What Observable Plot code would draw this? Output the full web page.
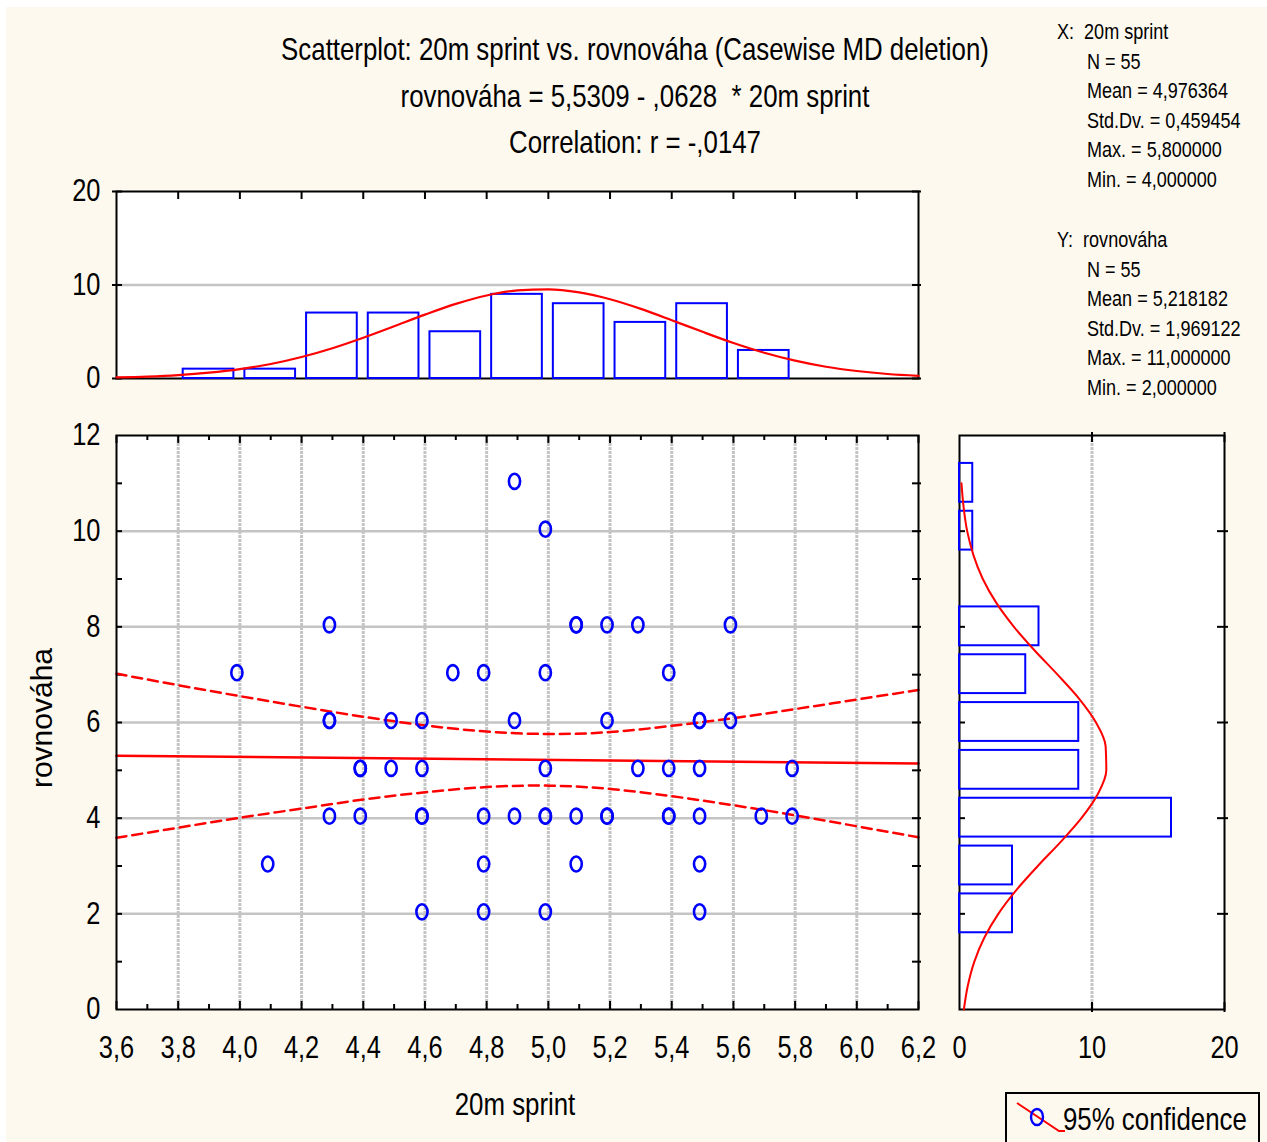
<!DOCTYPE html>
<html><head><meta charset="utf-8">
<script src="https://cdn.jsdelivr.net/npm/d3@7"></script>
<script src="https://cdn.jsdelivr.net/npm/@observablehq/plot@0.6"></script>
<style>
html,body{margin:0;padding:0;background:#fff;}
#root{position:relative;width:1267px;height:1142px;overflow:hidden;background:#fff;}
#bg{position:absolute;left:6px;top:7px;width:1261px;height:1135px;background:#fdf9ee;}
.t{position:absolute;font-family:"Liberation Sans",Arial,sans-serif;color:#000;white-space:pre;line-height:1;}
.c{transform:translate(-50%,-50%) scaleX(0.82);transform-origin:50% 50%;}
.l{transform:translate(0,-50%) scaleX(0.82);transform-origin:0 50%;}
.plot{position:absolute;}
#legend{position:absolute;left:1005px;top:1092px;width:251px;height:60px;border:2px solid #000;background:#fdf9ee;}
</style></head>
<body><div id="root"><div id="bg"></div></div>
<script>
// ---------------- data ----------------
const sprint = [4.9, 5.0,
  4.3, 5.1, 5.1, 5.2, 5.3, 5.6,
  4.0, 4.7, 4.8, 5.0, 5.4,
  4.3, 4.3, 4.5, 4.6, 4.9, 5.2, 5.5, 5.5, 5.6,
  4.4, 4.4, 4.5, 4.6, 5.0, 5.3, 5.4, 5.5, 5.8,
  4.3, 4.4, 4.6, 4.6, 4.8, 4.9, 5.0, 5.0, 5.1, 5.2, 5.2, 5.4, 5.4, 5.5, 5.7, 5.8,
  4.1, 4.8, 5.1, 5.5,
  4.6, 4.8, 5.0, 5.5];
const rovnovaha = [11, 10,
  8, 8, 8, 8, 8, 8,
  7, 7, 7, 7, 7,
  6, 6, 6, 6, 6, 6, 6, 6, 6,
  5, 5, 5, 5, 5, 5, 5, 5, 5,
  4, 4, 4, 4, 4, 4, 4, 4, 4, 4, 4, 4, 4, 4, 4, 4,
  3, 3, 3, 3,
  2, 2, 2, 2];

// top histogram (20m sprint)
const xBinLo = [3.8, 4.0, 4.2, 4.4, 4.6, 4.8, 5.0, 5.2, 5.4, 5.6, 5.8];
const xBinHi = [4.0, 4.2, 4.4, 4.6, 4.8, 5.0, 5.2, 5.4, 5.6, 5.8, 6.0];
const xBinCount = [1, 1, 7, 7, 5, 9, 8, 6, 8, 3, 0];
// right histogram (rovnovaha)
const yBinMid = [2, 3, 4, 5, 6, 7, 8, 9, 10, 11];
const yBinCount = [4, 4, 16, 9, 9, 5, 6, 0, 1, 1];

// fitted normal curves on histograms
const normXAt = [3.6,3.7,3.8,3.9,4.0,4.1,4.2,4.3,4.4,4.5,4.6,4.7,4.8,4.9,5.0,5.1,5.2,5.3,5.4,5.5,5.6,5.7,5.8,5.9,6.0,6.1,6.2];
const normXCount = [0.11,0.20,0.36,0.62,1.00,1.55,2.30,3.24,4.36,5.59,6.83,7.98,8.88,9.42,9.54,9.21,8.48,7.45,6.24,4.99,3.80,2.76,1.91,1.26,0.80,0.48,0.28];
const normYAt = [0,0.5,1,1.5,2,2.5,3,3.5,4,4.5,5,5.5,6,6.5,7,7.5,8,8.5,9,9.5,10,10.5,11];
const normYCount = [0.33,0.63,1.12,1.87,2.93,4.30,5.91,7.62,9.20,10.43,11.08,11.03,10.30,9.02,7.40,5.69,4.11,2.78,1.76,1.05,0.58,0.31,0.15];

// regression line and 95% confidence band
const fitX = [3.6, 6.2];
const fitY = [5.305, 5.142];
const bandX = [3.6,3.8,4.0,4.2,4.4,4.6,4.8,5.0,5.2,5.4,5.6,5.8,6.0,6.2];
const bandUpper = [7.02,6.78,6.55,6.33,6.12,5.94,5.81,5.76,5.80,5.93,6.09,6.28,6.48,6.68];
const bandLower = [3.59,3.80,4.01,4.20,4.39,4.54,4.65,4.68,4.61,4.46,4.27,4.06,3.83,3.60];

// ticks
const xMajor = [3.6,3.8,4.0,4.2,4.4,4.6,4.8,5.0,5.2,5.4,5.6,5.8,6.0,6.2];
const xMinor = [3.7,3.9,4.1,4.3,4.5,4.7,4.9,5.1,5.3,5.5,5.7,5.9,6.1];
const xGrid = [3.8,4.0,4.2,4.4,4.6,4.8,5.0,5.2,5.4,5.6,5.8,6.0];
const yLabels = [0,2,4,6,8,10,12];
const yAllTicks = [1,2,3,4,5,6,7,8,9,10,11];
const yGrid = [2,4,6,8,10];
const histTicks = [0,10,20];

const titleLines = [
  "Scatterplot: 20m sprint vs. rovnováha (Casewise MD deletion)",
  "rovnováha = 5,5309 - ,0628  * 20m sprint",
  "Correlation: r = -,0147"
];
const statsX = ["X:  20m sprint", "N = 55", "Mean = 4,976364", "Std.Dv. = 0,459454", "Max. = 5,800000", "Min. = 4,000000"];
const statsY = ["Y:  rovnováha", "N = 55", "Mean = 5,218182", "Std.Dv. = 1,969122", "Max. = 11,000000", "Min. = 2,000000"];

// ---------------- drawing ----------------
const FONT = '"Liberation Sans",Arial,sans-serif';
const BLUE = "#0000ff", RED = "#ff0000", GRID = "#c4c4c4";
const NARROW = 0.82;
const fmt = d => d.toFixed(1).replace(".", ",");
const root = document.getElementById("root");
const baseStyle = {background: "transparent", fontFamily: FONT, fontSize: "31px", color: "black", overflow: "visible"};

const points = sprint.map((x, i) => ({x, y: rovnovaha[i]}));
const ellipse = {draw(ctx, size) {
  const r = Math.sqrt(size / Math.PI), rx = r * 0.8, ry = r * 1.08, k = 0.5523;
  ctx.moveTo(rx, 0);
  ctx.bezierCurveTo(rx, ry * k, rx * k, ry, 0, ry);
  ctx.bezierCurveTo(-rx * k, ry, -rx, ry * k, -rx, 0);
  ctx.bezierCurveTo(-rx, -ry * k, -rx * k, -ry, 0, -ry);
  ctx.bezierCurveTo(rx * k, -ry, rx, -ry * k, rx, 0);
  ctx.closePath();
}};

// condense tick label text (Arial Narrow look)
function narrow(svg) {
  svg.querySelectorAll("text").forEach(t => {
    const tr = t.getAttribute("transform");
    if (tr) t.setAttribute("transform", tr + ` scale(${NARROW},1)`);
    else {
      const x = +t.getAttribute("x") || 0, y = +t.getAttribute("y") || 0;
      t.setAttribute("transform", `translate(${x},${y}) scale(${NARROW},1) translate(${-x},${-y})`);
    }
  });
  return svg;
}

// main scatter: frame 802 x 574
const FW = 802, FH = 574;
const main = Plot.plot({
  width: 950, height: 740, marginLeft: 116, marginRight: 32, marginTop: 35, marginBottom: 131,
  x: {domain: [3.6, 6.2]}, y: {domain: [0, 12]},
  style: baseStyle,
  marks: [
    Plot.frame({fill: "white", stroke: null}),
    Plot.gridX({ticks: xGrid, stroke: GRID, strokeOpacity: 1, strokeWidth: 3, strokeDasharray: "3,1"}),
    Plot.gridY({ticks: yGrid, stroke: GRID, strokeOpacity: 1, strokeWidth: 2.5}),
    Plot.ruleX(xMajor, {x: d => d, insetTop: FH - 8, stroke: "black", strokeWidth: 2}),
    Plot.ruleX(xMinor, {x: d => d, insetTop: FH - 5, stroke: "black", strokeWidth: 2}),
    Plot.ruleX(xMajor, {x: d => d, insetBottom: FH - 8, stroke: "black", strokeWidth: 2}),
    Plot.ruleX(xMinor, {x: d => d, insetBottom: FH - 5, stroke: "black", strokeWidth: 2}),
    Plot.ruleY(yAllTicks, {y: d => d, insetRight: FW - 6, stroke: "black", strokeWidth: 2}),
    Plot.ruleY(yAllTicks, {y: d => d, insetLeft: FW - 6, insetRight: -3, stroke: "black", strokeWidth: 2}),
    Plot.line(bandX.map((x, i) => ({x, y: bandUpper[i]})), {x: "x", y: "y", stroke: RED, strokeWidth: 2.5, strokeDasharray: "10,6", curve: "natural"}),
    Plot.line(bandX.map((x, i) => ({x, y: bandLower[i]})), {x: "x", y: "y", stroke: RED, strokeWidth: 2.5, strokeDasharray: "10,6", curve: "natural"}),
    Plot.line(fitX.map((x, i) => ({x, y: fitY[i]})), {x: "x", y: "y", stroke: RED, strokeWidth: 2.5}),
    Plot.dot(points, {x: "x", y: "y", r: 7, dx: -3, dy: -2, symbol: ellipse, stroke: BLUE, strokeWidth: 2.6, fill: "none"}),
    Plot.axisX({ticks: xMajor, tickFormat: fmt, tickSize: 0, tickPadding: 26, label: null, fontSize: 31}),
    Plot.axisY({ticks: yLabels, tickSize: 0, tickPadding: 16, label: null, fontSize: 31}),
    Plot.frame({stroke: "black", strokeWidth: 2})
  ]
});
narrow(main);
main.classList.add("plot");
Object.assign(main.style, {left: "0px", top: "400px", position: "absolute"});

// top histogram: frame 802 x 187
const TH = 187;
const topH = Plot.plot({
  width: 950, height: 230, marginLeft: 116, marginRight: 32, marginTop: 21, marginBottom: 22,
  x: {domain: [3.6, 6.2], axis: null}, y: {domain: [0, 20]},
  style: baseStyle,
  marks: [
    Plot.frame({fill: "white", stroke: null}),
    Plot.gridY({ticks: [10], stroke: GRID, strokeOpacity: 1, strokeWidth: 2.5}),
    Plot.ruleX(xGrid, {x: d => d, insetBottom: TH - 8, stroke: "black", strokeWidth: 2}),
    Plot.ruleY(histTicks, {y: d => d, insetRight: FW - 6, insetLeft: -4, stroke: "black", strokeWidth: 2}),
    Plot.ruleY(histTicks, {y: d => d, insetLeft: FW - 6, insetRight: -3, stroke: "black", strokeWidth: 2}),
    Plot.axisY({ticks: histTicks, tickSize: 0, tickPadding: 16, label: null, fontSize: 31}),
    Plot.frame({stroke: "black", strokeWidth: 2}),
    Plot.rectY(xBinLo.map((lo, i) => ({lo, hi: xBinHi[i], n: xBinCount[i]})),
      {x1: "lo", x2: "hi", y: "n", insetLeft: 5, insetRight: 6, stroke: BLUE, strokeWidth: 2, fill: "none"}),
    Plot.line(normXAt.map((x, i) => ({x, y: normXCount[i]})), {x: "x", y: "y", stroke: RED, strokeWidth: 2.2, curve: "monotone-x"})
  ]
});
narrow(topH);
topH.classList.add("plot");
Object.assign(topH.style, {left: "0px", top: "170px", position: "absolute"});

// right histogram: frame 265 x 574
const RW = 265;
const rightH = Plot.plot({
  width: 337, height: 740, marginLeft: 29, marginRight: 43, marginTop: 35, marginBottom: 131,
  x: {domain: [0, 20]}, y: {domain: [0, 12], axis: null},
  style: baseStyle,
  marks: [
    Plot.frame({fill: "white", stroke: null}),
    Plot.gridX({ticks: [10], stroke: GRID, strokeOpacity: 1, strokeWidth: 3, strokeDasharray: "3,1"}),
    Plot.ruleY(yGrid, {y: d => d, insetRight: RW - 6, stroke: "black", strokeWidth: 2}),
    Plot.ruleY(yGrid, {y: d => d, insetLeft: RW - 7, insetRight: -4, stroke: "black", strokeWidth: 2}),
    Plot.ruleX([10, 20], {x: d => d, insetBottom: FH - 7, insetTop: -3, stroke: "black", strokeWidth: 2}),
    Plot.ruleX([10, 20], {x: d => d, insetTop: FH - 7, insetBottom: -3, stroke: "black", strokeWidth: 2}),
    Plot.axisX({ticks: histTicks, tickSize: 0, tickPadding: 26, label: null, fontSize: 31}),
    Plot.frame({stroke: "black", strokeWidth: 2}),
    Plot.rectX(yBinMid.map((m, i) => ({lo: m - 0.5, hi: m + 0.5, n: yBinCount[i]})),
      {y1: "lo", y2: "hi", x: "n", insetTop: 4, insetBottom: 5, stroke: BLUE, strokeWidth: 2, fill: "none"}),
    Plot.line(normYAt.map((y, i) => ({y, x: normYCount[i]})), {x: "x", y: "y", stroke: RED, strokeWidth: 2, curve: "monotone-y"})
  ]
});
narrow(rightH);
rightH.classList.add("plot");
Object.assign(rightH.style, {left: "930px", top: "400px", position: "absolute"});

root.appendChild(topH);
root.appendChild(main);
root.appendChild(rightH);

// texts
function addText(txt, x, y, size, cls, extra) {
  const d = document.createElement("div");
  d.className = "t " + cls;
  d.textContent = txt;
  Object.assign(d.style, {left: x + "px", top: y + "px", fontSize: size + "px"}, extra || {});
  root.appendChild(d);
  return d;
}
const titleY = [50, 97, 143];
titleLines.forEach((s, i) => addText(s, 635, titleY[i], 31.5, "c"));
statsX.forEach((s, i) => addText(s, i === 0 ? 1057 : 1087, 32 + i * 29.6, 22, "l"));
statsY.forEach((s, i) => addText(s, i === 0 ? 1057 : 1087, 240 + i * 29.6, 22, "l"));
addText("20m sprint", 515, 1105, 31.5, "c");
addText("rovnováha", 42, 718, 30, "c", {transform: "translate(-50%,-50%) rotate(-90deg)"});

// legend
const lg = document.createElement("div");
lg.id = "legend";
lg.innerHTML = `<svg width="251" height="60" style="position:absolute;left:0;top:0">
  <path d="M10,9 L52,37 L58,37" stroke="${RED}" stroke-width="2" fill="none"/>
  <ellipse cx="30" cy="23" rx="6" ry="8" stroke="${BLUE}" stroke-width="2.4" fill="none"/>
</svg>`;
root.appendChild(lg);
addText("95% confidence", 1063, 1120, 31.5, "l");
</script>
</body></html>
